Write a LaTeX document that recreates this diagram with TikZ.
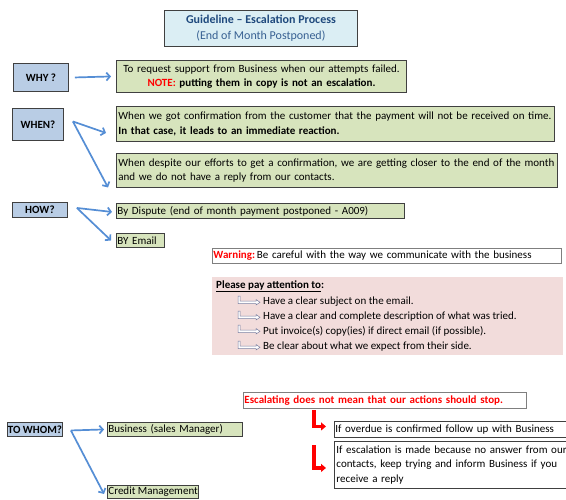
\documentclass[tikz,border=0pt]{standalone}
\usepackage{fontspec}
\setmainfont{Carlito}
\usetikzlibrary{arrows.meta,calc}
\definecolor{titlefill}{HTML}{DBEEF4}
\definecolor{titleblue}{HTML}{1F497D}
\definecolor{subblue}{HTML}{376092}
\definecolor{labelfill}{HTML}{B9CDE5}
\definecolor{greenfill}{HTML}{D7E4BD}
\definecolor{pinkfill}{HTML}{F2DCDB}
\definecolor{arrowblue}{HTML}{558ED5}
\definecolor{boxline}{HTML}{404040}
\definecolor{grayline}{HTML}{7F7F7F}
\definecolor{hollowline}{HTML}{7A7FA0}
\definecolor{redtext}{HTML}{FF0000}
\begin{document}
\begin{tikzpicture}[x=1pt,y=-1pt,
  font=\fontsize{11}{14.5}\selectfont,
  box/.style={draw=boxline, line width=0.9pt, inner sep=2pt, anchor=north west, align=left},
  greenbox/.style={box, fill=greenfill},
  labelbox/.style={box, fill=labelfill, font=\fontsize{11}{14.5}\selectfont\bfseries, align=center, inner sep=0pt},
  whitebox/.style={box, draw=grayline, fill=white},
  bluearrow/.style={draw=arrowblue, line width=1.7pt, -{Straight Barb[length=3.5pt,width=8pt]}},
  redarrow/.style={draw=redtext, line width=3.2pt, -{Triangle[length=5pt,width=8pt]}},
  plain/.style={anchor=west, inner sep=0pt},
  hollow/.pic={\draw[hollowline, fill=white, line width=0.5pt]
     (0,-6) -- (2,-6) -- (2,-1) -- (18,-1) -- (18,-2.5) -- (22,0.3) -- (18,3) -- (18,1.5) -- (0,1.5) -- cycle;}
]
\useasboundingbox[fill=white] (0,0) rectangle (566,499);

% title
\node[box, fill=titlefill, minimum width=193, minimum height=36, align=center, inner sep=1pt,
      font=\fontsize{12}{16}\selectfont] (title) at (164,10)
  {\textcolor{titleblue}{\textbf{Guideline -- Escalation Process}}\\ \textcolor{subblue}{(End of Month Postponed)}};

% WHY
\node[labelbox, minimum width=55, minimum height=28] (why) at (13,63) {WHY ?};
\node[greenbox, text width=286, minimum height=32, align=center] (whyt) at (116,60)
  {To request support from Business when our attempts failed.\\ \textcolor{redtext}{\textbf{NOTE:}} \textbf{putting them in copy is not an escalation.}};
\draw[bluearrow] ([xshift=6]why.east) -- ([xshift=-5]whyt.west);

% WHEN
\node[labelbox, minimum width=51, minimum height=32] (when) at (12,108) {WHEN?};
\node[greenbox, text width=434, minimum height=35] (w1) at (116,106)
  {When we got confirmation from the customer that the payment will not be received on time.\\ \textbf{In that case, it leads to an immediate reaction.}};
\node[greenbox, text width=437, minimum height=34] (w2) at (116,153)
  {When despite our efforts to get a confirmation, we are getting closer to the end of the month\\ and we do not have a reply from our contacts.};
\coordinate (wv) at ([xshift=9,yshift=3]when.east);
\draw[bluearrow] (wv) -- ([xshift=-10,yshift=-9]w1.west);
\draw[bluearrow] (wv) -- ([xshift=-8,yshift=-17]w2.west);

% HOW
\node[labelbox, minimum width=55, minimum height=15] (how) at (12,202) {HOW?};
\node[greenbox, text width=286, minimum height=15, inner sep=1pt] (disp) at (116,203)
  {By Dispute (end of month payment postponed - A009)};
\node[greenbox, text width=46, minimum height=14, inner sep=1pt] (email) at (116,233) {BY Email};
\coordinate (hv) at ([xshift=9,yshift=2]how.east);
\draw[bluearrow] (hv) -- ([xshift=-4,yshift=-1]disp.west);
\draw[bluearrow] (hv) -- ([xshift=-5]email.west);

% warning
\node[whitebox, text width=347, minimum height=15, inner sep=1pt] (warn) at (212,248)
  {\textcolor{redtext}{\textbf{Warning:}}\,Be careful with the way we communicate with the business};

% attention
\node[anchor=north west, fill=pinkfill, minimum width=351, minimum height=78, inner sep=0pt] (pink) at (212,277) {};
\node[plain, font=\fontsize{11}{14.5}\selectfont\bfseries] (pat) at (216,286) {\underline{Please pay attention to}:};
\node[plain] (i1) at (263,302) {Have a clear subject on the email.};
\node[plain] (i2) at (263,317) {Have a clear and complete description of what was tried.};
\node[plain] (i3) at (263,331) {Put invoice(s) copy(ies) if direct email (if possible).};
\node[plain] (i4) at (263,347) {Be clear about what we expect from their side.};
\pic at (238,302) {hollow};
\pic at (238,317) {hollow};
\pic at (238,331) {hollow};
\pic at (238,347) {hollow};

% escalating
\node[whitebox, text width=281, minimum height=16, inner sep=1pt] (esc) at (243,392)
  {\textcolor{redtext}{\textbf{Escalating does not mean that our actions should stop.}}};

% TO WHOM
\node[labelbox, minimum width=55, minimum height=14] (whom) at (7,422) {TO WHOM?};
\node[greenbox, text width=133, minimum height=14, inner sep=1pt] (bus) at (107,422) {Business (sales Manager)};
\node[greenbox, minimum width=91, minimum height=13, inner sep=1pt] (cred) at (107,485) {Credit Management};
\coordinate (tv) at ([xshift=8,yshift=-1]whom.east);
\draw[bluearrow] (tv) -- ([xshift=-3]bus.west);
\draw[bluearrow] (tv) -- ([xshift=-3,yshift=-2]cred.west);

% right boxes
\node[whitebox, draw=boxline, text width=240, minimum height=16, inner sep=1pt] (ov) at (334,421)
  {If overdue is confirmed follow up with Business};
\node[whitebox, draw=boxline, text width=240, minimum height=47, inner sep=2pt] (er) at (334,441)
  {If escalation is made because no answer from our\\ contacts, keep trying and inform Business if you\\ receive a reply};
\coordinate (r1) at (314,410);
\coordinate (r2) at (314,445);
\draw[redarrow] (r1) |- ([xshift=-8,yshift=3]ov.west);
\draw[redarrow] (r2) |- ([xshift=-8,yshift=-3]er.west);
\end{tikzpicture}
\end{document}
